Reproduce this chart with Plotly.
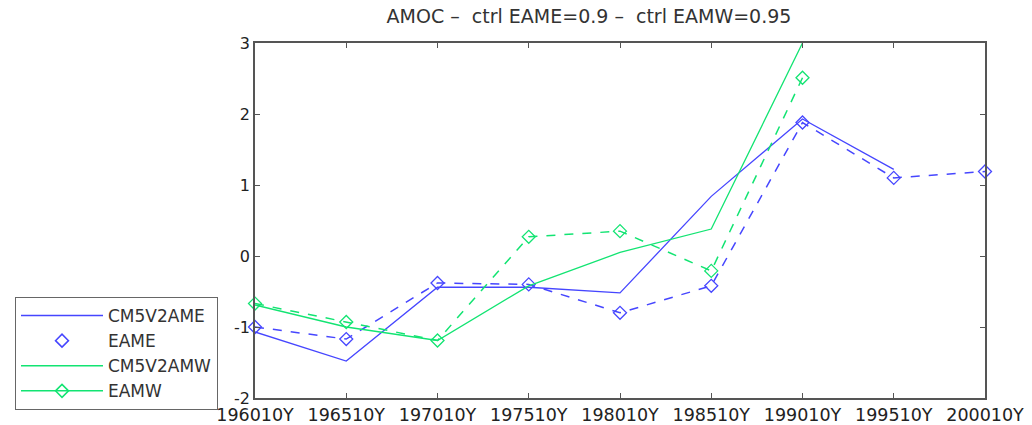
import plotly.graph_objects as go

years = [1960, 1965, 1970, 1975, 1980, 1985, 1990, 1995, 2000]
tick_labels = ["196010Y", "196510Y", "197010Y", "197510Y", "198010Y",
               "198510Y", "199010Y", "199510Y", "200010Y"]

cm5v2ame_x = [1960, 1965, 1970, 1975, 1980, 1985, 1990, 1995]
cm5v2ame_y = [-1.07, -1.48, -0.44, -0.44, -0.52, 0.84, 1.93, 1.22]

eame_x = [1960, 1965, 1970, 1975, 1980, 1985, 1990, 1995, 2000]
eame_y = [-1.00, -1.17, -0.38, -0.40, -0.80, -0.42, 1.88, 1.10, 1.19]

cm5v2amw_x = [1960, 1965, 1970, 1975, 1980, 1985, 1990]
cm5v2amw_y = [-0.69, -1.00, -1.19, -0.42, 0.05, 0.38, 3.00]

eamw_x = [1960, 1965, 1970, 1975, 1980, 1985, 1990]
eamw_y = [-0.67, -0.93, -1.19, 0.27, 0.35, -0.21, 2.51]

BLUE = "#4646ff"
GREEN = "#12e472"
FONT = "DejaVu Sans"

fig = go.Figure()

# data traces
fig.add_trace(go.Scatter(x=cm5v2ame_x, y=cm5v2ame_y, mode="lines",
                         line=dict(color=BLUE, width=1.3), showlegend=False))
fig.add_trace(go.Scatter(x=eame_x, y=eame_y, mode="lines+markers",
                         line=dict(color=BLUE, width=1.5, dash="dash"),
                         marker=dict(symbol="diamond-open", size=10, color=BLUE, line=dict(width=1.3)),
                         showlegend=False, cliponaxis=False))
fig.add_trace(go.Scatter(x=cm5v2amw_x, y=cm5v2amw_y, mode="lines",
                         line=dict(color=GREEN, width=1.3), showlegend=False))
fig.add_trace(go.Scatter(x=eamw_x, y=eamw_y, mode="lines+markers",
                         line=dict(color=GREEN, width=1.5, dash="dash"),
                         marker=dict(symbol="diamond-open", size=10, color=GREEN, line=dict(width=1.3)),
                         showlegend=False, cliponaxis=False))

# legend entries (styled like the reference legend)
fig.add_trace(go.Scatter(x=[None], y=[None], mode="lines", name="CM5V2AME",
                         line=dict(color=BLUE, width=1.5)))
fig.add_trace(go.Scatter(x=[None], y=[None], mode="markers", name="EAME",
                         marker=dict(symbol="diamond-open", size=10, color=BLUE, line=dict(width=1.5))))
fig.add_trace(go.Scatter(x=[None], y=[None], mode="lines", name="CM5V2AMW",
                         line=dict(color=GREEN, width=1.5)))
fig.add_trace(go.Scatter(x=[None], y=[None], mode="lines+markers", name="EAMW",
                         line=dict(color=GREEN, width=1.5),
                         marker=dict(symbol="diamond-open", size=10, color=GREEN, line=dict(width=1.5))))

axis_common = dict(showgrid=False, zeroline=False, showline=True, linecolor="#555555",
                   linewidth=1.5, mirror="ticks", ticks="inside", ticklen=5,
                   tickcolor="#555555", automargin=False)

fig.update_layout(
    width=1032, height=425,
    margin=dict(l=255, r=47, t=43, b=27, autoexpand=False),
    paper_bgcolor="white", plot_bgcolor="white",
    font=dict(family=FONT, color="#333333"),
    title=dict(text="AMOC \u2013  ctrl EAME=0.9 \u2013  ctrl EAMW=0.95",
               x=(589 - 255) / 730, xref="paper", xanchor="center",
               y=1 - 16 / 425, yref="container", yanchor="middle",
               font=dict(size=19, family=FONT, color="#333333")),
    xaxis=dict(range=[1960, 2000], tickmode="array", tickvals=years, ticktext=tick_labels,
               tickfont=dict(size=17.5, family=FONT, color="#222222"),
               ticklabelstandoff=0, **axis_common),
    yaxis=dict(range=[-2, 3], tickmode="array", tickvals=[-2, -1, 0, 1, 2, 3],
               ticktext=["-2", "-1", "0", "1", "2", "3"],
               tickfont=dict(size=16, family=FONT, color="#222222"), **axis_common),
    legend=dict(x=(15 - 255) / 730, xanchor="left", y=(398 - 297) / 355, yanchor="top",
                bgcolor="white", bordercolor="#666666", borderwidth=1,
                font=dict(size=17, family=FONT, color="#333333"),
                itemwidth=82, tracegroupgap=0),
)

fig.write_html("out.html")
